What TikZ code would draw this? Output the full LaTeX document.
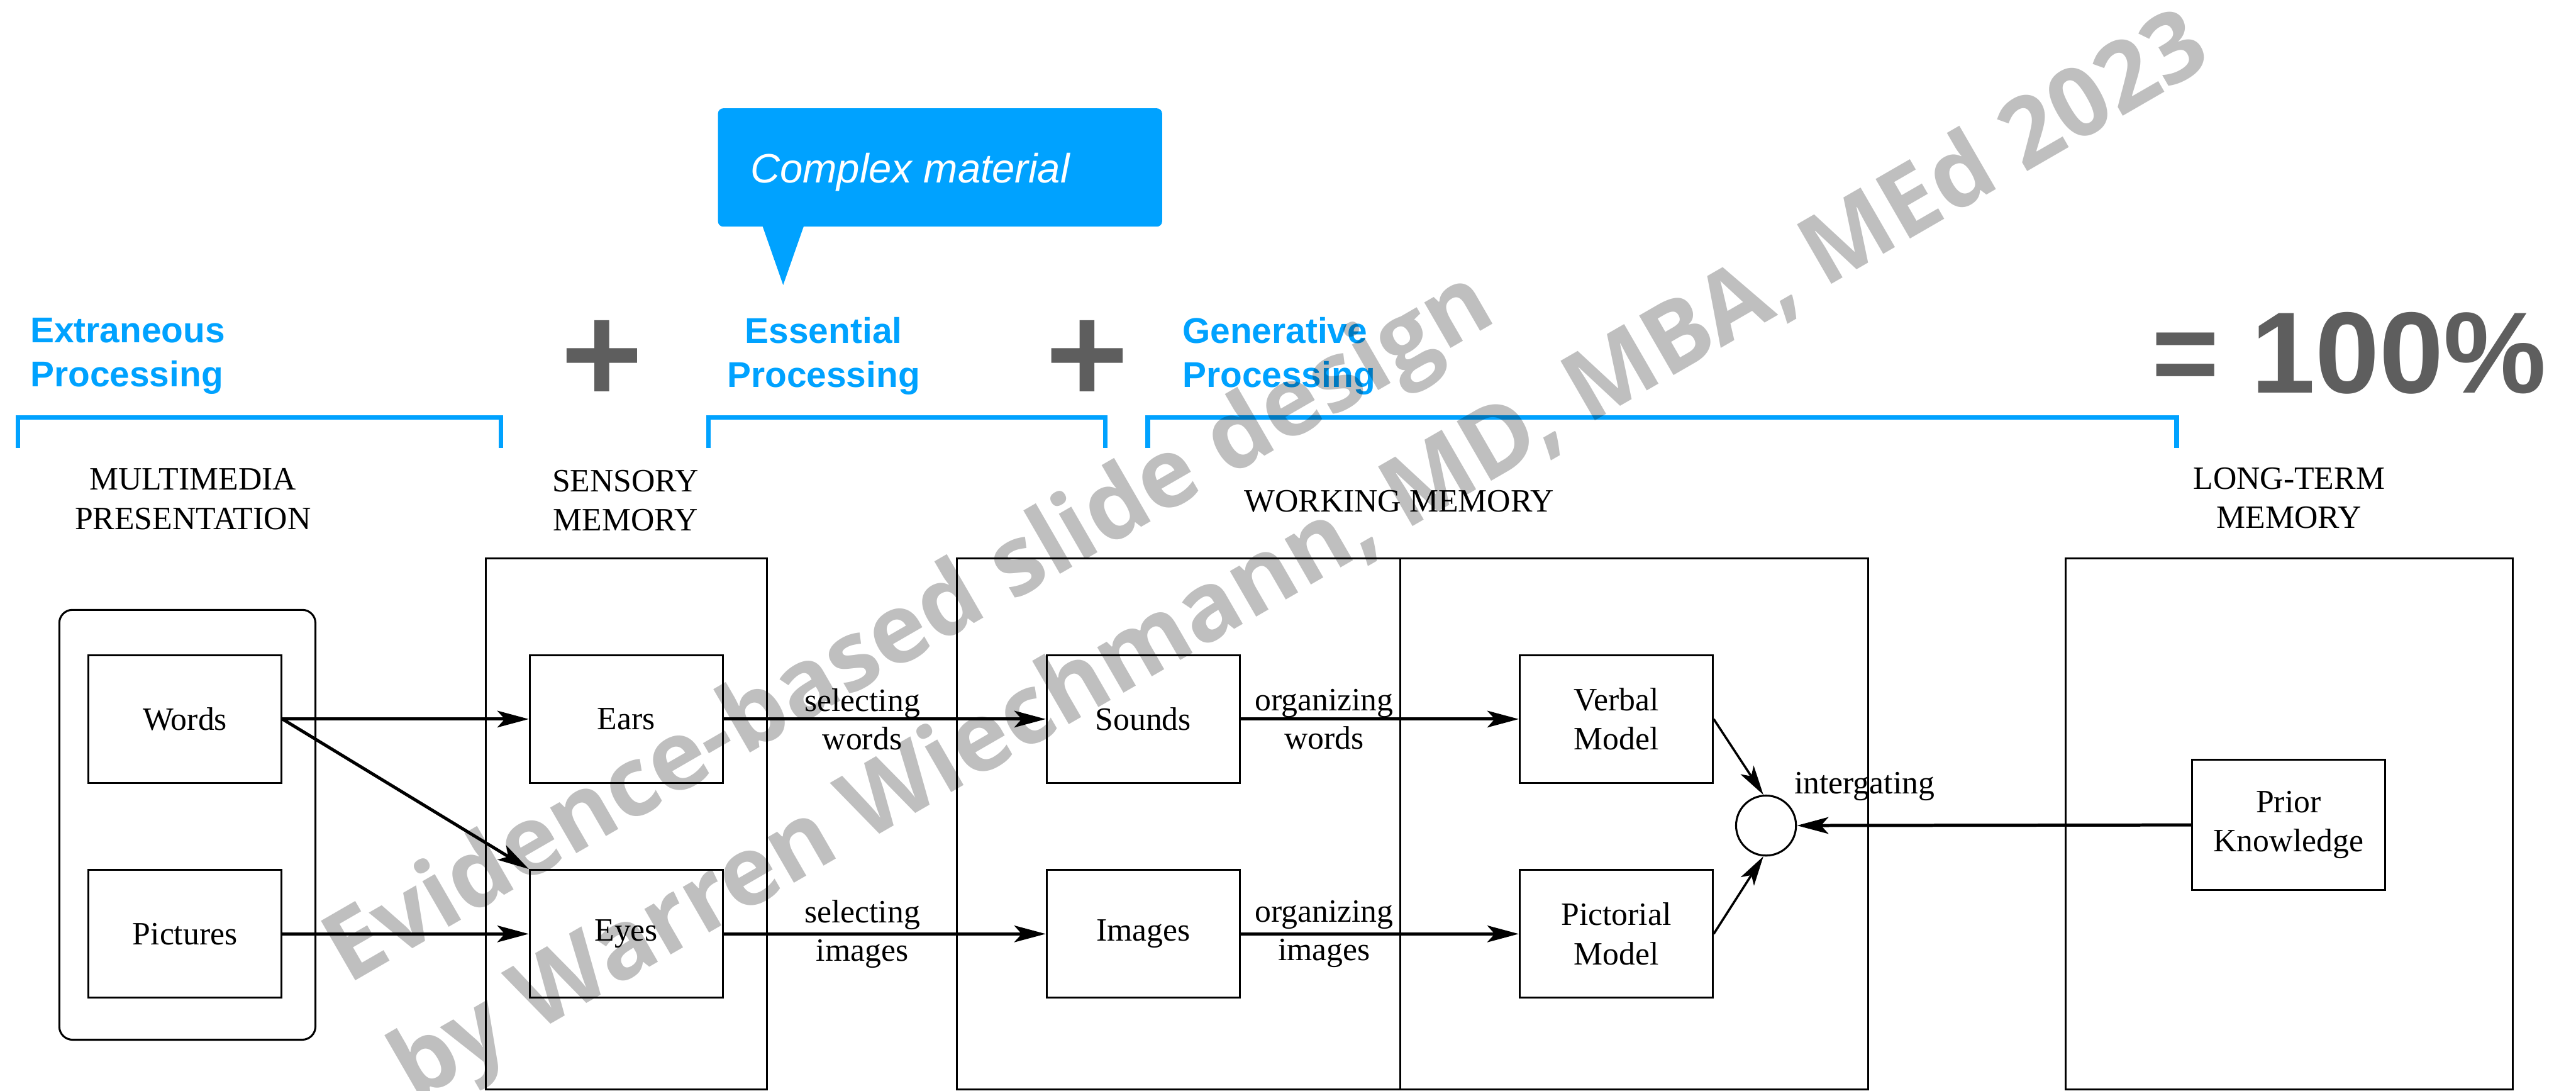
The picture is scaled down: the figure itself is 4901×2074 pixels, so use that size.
\documentclass[tikz,border=0pt]{standalone}
\usepackage{fontspec}
\setmainfont{Liberation Serif}
\newfontfamily\headfont{Liberation Sans}
\newfontfamily\wmfont{Open Sans}
\usetikzlibrary{arrows.meta}
\definecolor{skyblue}{HTML}{00A2FF}
\definecolor{plusgray}{HTML}{5E5E5E}

\begin{document}
\begin{tikzpicture}[x=0.01cm, y=-0.01cm,
  stagebox/.style={draw, line width=1.05pt, inner sep=0pt},
  itembox/.style={draw, line width=1.05pt, inner sep=0pt, minimum width=3.67cm,
    minimum height=2.43cm, align=center, font={\fontsize{17.6}{21.2}\selectfont}},
  titletext/.style={align=center, inner sep=0pt, font={\fontsize{17.6}{21.3}\selectfont}},
  arrowlbl/.style={align=center, inner sep=0pt, font={\fontsize{17.6}{20.8}\selectfont}},
  headtext/.style={inner sep=0pt, text=skyblue, font={\headfont\bfseries\fontsize{19.35}{23.9}\selectfont}},
  bracketline/.style={draw=skyblue, line width=2.6pt},
  flowarrow/.style={line width=1.7pt, -{Stealth[length=17pt,width=9pt,inset=4pt]}},
  thinarrow/.style={line width=1.2pt, -{Stealth[length=16pt,width=8.5pt,inset=4pt]}},
  watermark/.style={inner sep=0pt, anchor=base west, rotate=30, text=black, text opacity=0.25,
    font={\wmfont\bfseries\fontsize{52.1}{60}\selectfont}}
]
\useasboundingbox (0,0) rectangle (4901,2074);
\clip (0,0) rectangle (4901,2074);

% callout
\fill[skyblue, rounded corners=0.1cm] (1366,206) rectangle (2211,431);
\fill[skyblue] (1449,425) -- (1490,542) -- (1531,425) -- cycle;
\node[anchor=base west, inner sep=0pt, text=white,
  font={\headfont\itshape\fontsize{22.2}{26}\selectfont}] (callout) at (1427,348) {Complex material};

% processing headings
\node[headtext, align=left, anchor=west] (extra) at (57,677) {Extraneous\\Processing};
\node[headtext, align=center] (essen) at (1567,677) {Essential\\Processing};
\node[headtext, align=left, anchor=west] (gener) at (2249,677) {Generative\\Processing};
\node[anchor=base west, inner sep=0pt, text=plusgray,
  font={\headfont\bfseries\fontsize{62.5}{70}\selectfont}] (total) at (4093,747) {= 100\%};

% plus signs
\fill[plusgray] (1131,609) rectangle (1159,744) (1078,662) rectangle (1212,690);
\fill[plusgray] (2054,609) rectangle (2082,744) (2000,662) rectangle (2136,690);

% brackets
\draw[bracketline] (34,852) -- (34,794) -- (953,794) -- (953,852);
\draw[bracketline] (1348,852) -- (1348,794) -- (2103,794) -- (2103,852);
\draw[bracketline] (2184,852) -- (2184,794) -- (4141,794) -- (4141,852);

% stage titles
\node[titletext] (tpres) at (367,949) {MULTIMEDIA\\PRESENTATION};
\node[titletext] (tsens) at (1190,952) {SENSORY\\MEMORY};
\node[titletext, anchor=base] (twork) at (2662,973) {WORKING MEMORY};
\node[titletext] (tlong) at (4355,947) {LONG-TERM\\MEMORY};

% stage frames
\node[stagebox, rounded corners=0.25cm, minimum width=4.87cm, minimum height=8.17cm] (present) at (356.5,1568.5) {};
\node[stagebox, minimum width=5.35cm, minimum height=10.09cm] (sensory) at (1191.5,1566.5) {};
\node[stagebox, minimum width=17.33cm, minimum height=10.09cm] (working) at (2687.5,1566.5) {};
\node[stagebox, minimum width=8.50cm, minimum height=10.09cm] (longterm) at (4355,1566.5) {};
\coordinate (divtop) at (2664,1062);
\draw[line width=1.05pt] (divtop) -- (divtop |- working.south);

% items
\node[itembox] (words) at (352,1367.5) {Words};
\node[itembox] (pictures) at (352,1776) {Pictures};
\node[itembox] (ears) at (1191.5,1367.5) {Ears};
\node[itembox] (eyes) at (1191.5,1776) {Eyes};
\node[itembox] (sounds) at (2175,1367.5) {Sounds};
\node[itembox] (images) at (2175,1776) {Images};
\node[itembox] (verbal) at (3075,1367.5) {Verbal\\Model};
\node[itembox] (pictorial) at (3075,1776) {Pictorial\\Model};
\node[itembox, minimum height=2.47cm] (prior) at (4354,1568.5) {Prior\\Knowledge};
\node[draw, circle, line width=1.05pt, minimum size=1.14cm, inner sep=0pt] (integ) at (3360,1570) {};
\node[arrowlbl, anchor=base west] (integlbl) at (3413,1509) {intergating};

% connectors
\draw[flowarrow] (words) -- (ears);
\draw[flowarrow] (words.east) -- (eyes.north west);
\draw[flowarrow] (pictures) -- (eyes);
\draw[flowarrow] (ears) -- node[arrowlbl, pos=0.43] {selecting\\words} (sounds);
\draw[flowarrow] (eyes) -- node[arrowlbl, pos=0.43] {selecting\\images} (images);
\draw[flowarrow] (sounds) -- node[arrowlbl, pos=0.3] {organizing\\words} (verbal);
\draw[flowarrow] (images) -- node[arrowlbl, pos=0.3] {organizing\\images} (pictorial);
\draw[thinarrow] (verbal.east) -- (integ.95);
\draw[thinarrow] (pictorial.east) -- (integ.265);
\draw[flowarrow] (prior) -- (integ);

% watermark
\node[watermark] (wm1) at (662,1874) {Evidence-based slide design};
\node[watermark] (wm2) at (789,2097) {by Warren Wiechmann, MD, MBA, MEd 2023};
\end{tikzpicture}
\end{document}
